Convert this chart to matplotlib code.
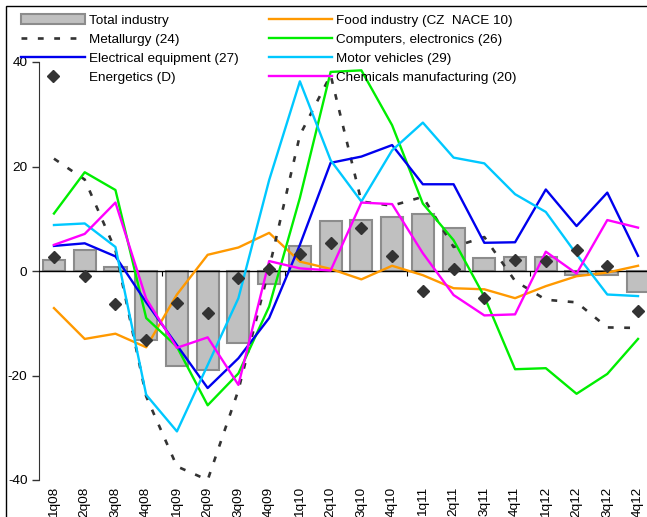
import numpy as np
import matplotlib
matplotlib.use("Agg")
import matplotlib.pyplot as plt
from matplotlib.patches import Rectangle

plt.rcParams['font.family'] = ['Liberation Sans', 'DejaVu Sans']
FS = 9.7

quarters = ['1q08', '2q08', '3q08', '4q08', '1q09', '2q09', '3q09', '4q09',
            '1q10', '2q10', '3q10', '4q10', '1q11', '2q11', '3q11', '4q11',
            '1q12', '2q12', '3q12', '4q12']

total_industry = [2.2, 4.0, 0.8, -13.2, -18.2, -19.0, -13.7, -2.4, 4.8, 9.6,
                  9.75, 10.4, 10.9, 8.2, 2.4, 2.7, 2.7, -0.8, -0.8, -4.0]
food = [-7.1, -13.0, -12.0, -14.6, -4.5, 3.1, 4.5, 7.3, 1.8, 0.4,
        -1.6, 1.0, -0.8, -3.3, -3.5, -5.2, -2.9, -1.0, -0.3, 1.0]
metallurgy = [21.5, 17.5, 4.0, -24.0, -37.4, -40.0, -22.8, 0.5, 26.0, 37.5,
              13.3, 12.5, 14.2, 4.6, 6.5, -1.9, -5.5, -6.0, -10.8, -10.9]
computers = [11.0, 18.9, 15.5, -9.0, -14.5, -25.7, -19.6, -6.8, 14.0, 38.1,
             38.4, 27.9, 12.9, 5.9, -4.9, -18.8, -18.6, -23.5, -19.7, -13.0]
electrical = [4.8, 5.3, 2.8, -6.0, -14.2, -22.4, -16.7, -9.0, 5.0, 20.7,
              21.9, 24.1, 16.6, 16.6, 5.4, 5.5, 15.6, 8.6, 15.0, 2.9]
motor = [8.8, 9.1, 4.6, -23.7, -30.7, -18.0, -5.2, 17.4, 36.3, 21.2,
         13.3, 23.1, 28.4, 21.7, 20.6, 14.7, 11.3, 3.2, -4.5, -4.8]
energetics = [2.7, -0.9, -6.4, -13.2, -6.2, -8.1, -1.4, 0.4, 3.2, 5.4,
              8.3, 2.9, -3.8, 0.4, -5.1, 2.2, 1.9, 4.0, 1.0, -7.6]
chemicals = [5.0, 7.1, 13.1, -5.3, -14.7, -12.7, -21.8, 1.9, 0.5, 0.1,
             13.1, 12.8, 3.4, -4.6, -8.5, -8.3, 3.7, -0.5, 9.75, 8.3]

x = np.arange(len(quarters))

fig = plt.figure(figsize=(6.47, 5.17), dpi=100)
W, H = 647, 517
ax = fig.add_axes([38.6 / W, 1 - 480 / H, 614.8 / W, 418 / H])

bars = ax.bar(x, total_industry, width=0.72, color='#c0c0c0', edgecolor='#8c8c8c',
              linewidth=1.5, label='Total industry', zorder=2)
ax.axhline(0, color='black', linewidth=1.0, zorder=3)
# year boundary ticks on zero line
ax.vlines(np.arange(3.5, len(quarters), 4), -0.9, 0, color='black', linewidth=0.8, zorder=3)

l_food, = ax.plot(x, food, color='#ff9900', lw=1.7, label='Food industry (CZ  NACE 10)', zorder=4)
l_met, = ax.plot(x, metallurgy, color='#333333', lw=1.9, linestyle=(0, (2.2, 4.0)),
                 label='Metallurgy (24)', zorder=4)
l_comp, = ax.plot(x, computers, color='#00ee00', lw=1.7, label='Computers, electronics (26)', zorder=4)
l_el, = ax.plot(x, electrical, color='#0000ee', lw=1.7, label='Electrical equipment (27)', zorder=4)
l_mot, = ax.plot(x, motor, color='#00c8ff', lw=1.7, label='Motor vehicles (29)', zorder=4)
l_chem, = ax.plot(x, chemicals, color='#ff00ff', lw=1.7, label='Chemicals manufacturing (20)', zorder=4)
l_en, = ax.plot(x, energetics, linestyle='none', marker='D', markersize=6.5,
                color='#333333', label='Energetics (D)', zorder=5)

ax.set_xlim(-0.5, len(quarters) - 0.5)
ax.set_ylim(-40, 40)
ax.set_yticks([-40, -20, 0, 20, 40])
ax.set_yticklabels(['-40', '-20', '0', '20', '40'])
ax.set_xticks(x)
ax.set_xticklabels(quarters, rotation=90)
ax.tick_params(axis='x', length=0, pad=5, labelsize=FS)
ax.tick_params(axis='y', length=5, width=1, color='#333333', pad=3, labelsize=FS)
for s in ['top', 'right', 'bottom']:
    ax.spines[s].set_visible(False)
ax.spines['left'].set_color('#333333')

handles = [bars, l_met, l_el, l_en, l_food, l_comp, l_mot, l_chem]
fig.legend(handles=handles, labels=[h.get_label() for h in handles], ncol=2,
           loc='upper left', bbox_to_anchor=(16 / W, 1 - 9 / H), frameon=False,
           fontsize=FS, handlelength=4.7, handletextpad=0.3, columnspacing=2.25,
           labelspacing=0.48, numpoints=1, borderaxespad=0)

# outer frame of the original picture
fig.patches.append(Rectangle((6 / W, -0.1), 1.2, 1 - 6 / H + 0.1, transform=fig.transFigure,
                             fill=False, edgecolor='black', linewidth=1.0))

fig.savefig('out.png', dpi=100)
